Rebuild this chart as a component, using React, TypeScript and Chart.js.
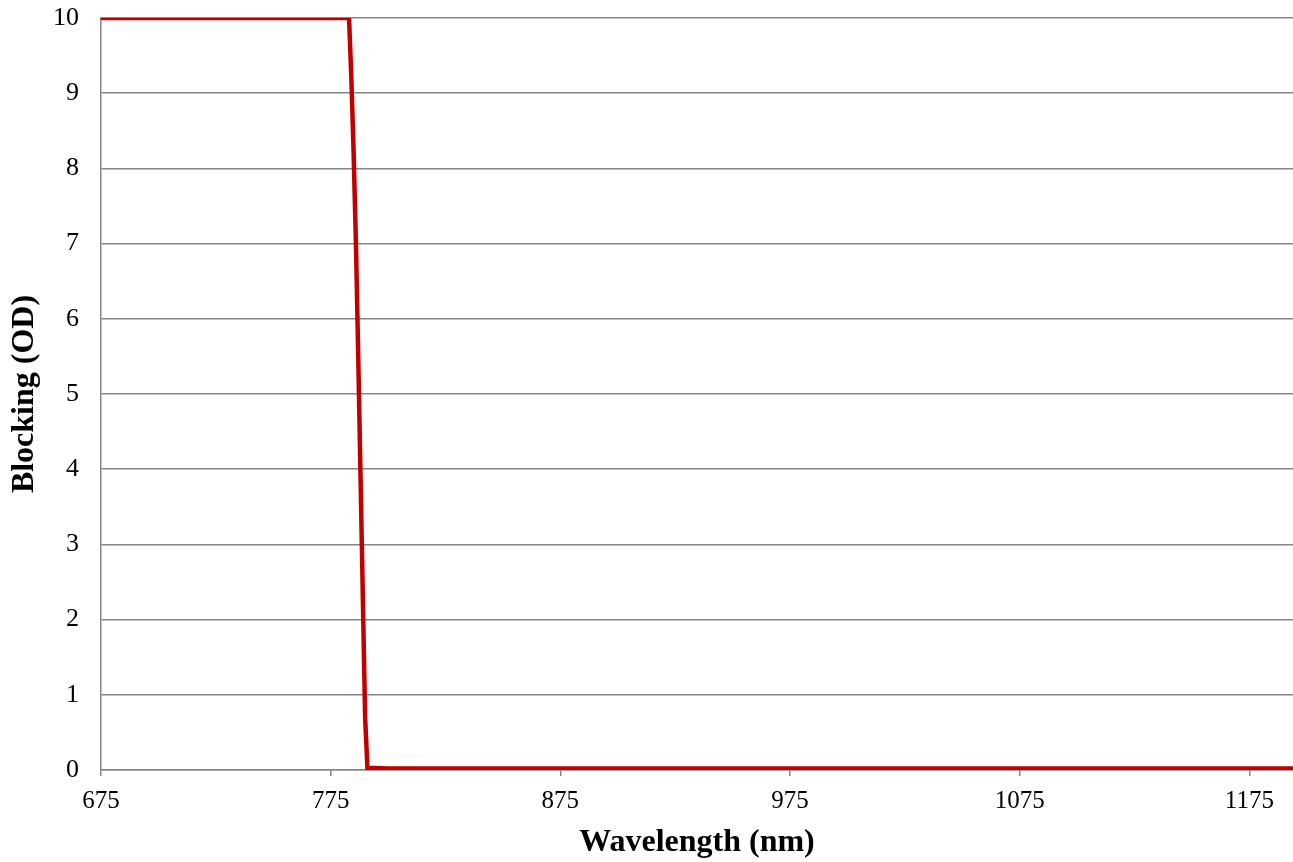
import React, { useEffect, useRef } from "react";
import { Chart, registerables } from "chart.js";

Chart.register(...registerables);

// Wavelength (nm) and blocking (OD) values
const wavelengths: number[] = [
  675, 700, 725, 750, 775, 780, 783, 784, 785, 786, 787, 788, 789, 790, 791,
  800, 825, 850, 875, 900, 950, 1000, 1050, 1100, 1150, 1194,
];
const blocking: number[] = [
  10, 10, 10, 10, 10, 10, 10, 9.2, 8.2, 7.0, 5.5, 3.9, 2.3, 0.7, 0.03,
  0.02, 0.02, 0.02, 0.02, 0.02, 0.02, 0.02, 0.02, 0.02, 0.02, 0.02,
];
const xTicks: number[] = [675, 775, 875, 975, 1075, 1175];
const xMin = 675;
const xMax = 1194;
const yMin = 0;
const yMax = 10;
const xTitle = "Wavelength (nm)";
const yTitle = "Blocking (OD)";

const serif = "'Liberation Serif', 'Times New Roman', serif";

export default function App() {
  const ref = useRef<HTMLCanvasElement | null>(null);

  useEffect(() => {
    document.body.style.margin = "0";
    const canvas = ref.current;
    if (!canvas) return;
    const chart = new Chart(canvas, {
      type: "line",
      data: {
        datasets: [
          {
            data: wavelengths.map((w, i) => ({ x: w, y: blocking[i] })),
            borderColor: "#c00000",
            backgroundColor: "#c00000",
            borderWidth: 4.5,
            pointRadius: 0,
            tension: 0,
            borderJoinStyle: "miter",
          },
        ],
      },
      options: {
        animation: false,
        responsive: true,
        maintainAspectRatio: false,
        layout: { padding: 0 },
        plugins: {
          legend: { display: false },
          tooltip: { enabled: false },
        },
        scales: {
          x: {
            type: "linear",
            min: xMin,
            max: xMax,
            afterBuildTicks: (scale: any) => {
              scale.ticks = xTicks.map((v) => ({ value: v }));
            },
            afterFit: (scale: any) => {
              scale.height = 92;
              scale.paddingLeft = 0;
              scale.paddingRight = 0;
            },
            grid: {
              drawOnChartArea: false,
              drawTicks: true,
              tickLength: 6,
              color: "#868686",
              lineWidth: 1.5,
            },
            border: { display: true, color: "#868686", width: 1.5 },
            ticks: {
              color: "#000",
              font: { family: serif, size: 25 },
              padding: 10,
              maxRotation: 0,
              autoSkip: false,
              callback: (v: any) => String(v),
            },
            title: {
              display: true,
              text: xTitle,
              color: "#000",
              font: { family: serif, size: 32, weight: "bold" },
              padding: { top: 0, bottom: 0 },
            },
          },
          y: {
            min: yMin,
            max: yMax,
            afterFit: (scale: any) => {
              scale.width = 101;
              scale.paddingTop = 18;
              scale.paddingBottom = 0;
            },
            grid: {
              color: "#868686",
              lineWidth: 1.5,
              drawTicks: false,
            },
            border: { display: true, color: "#868686", width: 1.5 },
            ticks: {
              stepSize: 1,
              color: "#000",
              font: { family: serif, size: 26 },
              padding: 22,
            },
            title: {
              display: true,
              text: yTitle,
              color: "#000",
              font: { family: serif, size: 32, weight: "bold" },
              padding: { top: 6, bottom: 0 },
            },
          },
        },
      },
    });
    return () => chart.destroy();
  }, []);

  return (
    <div style={{ position: "absolute", left: 0, top: 0, width: 1293, height: 862 }}>
      <canvas ref={ref} />
    </div>
  );
}
